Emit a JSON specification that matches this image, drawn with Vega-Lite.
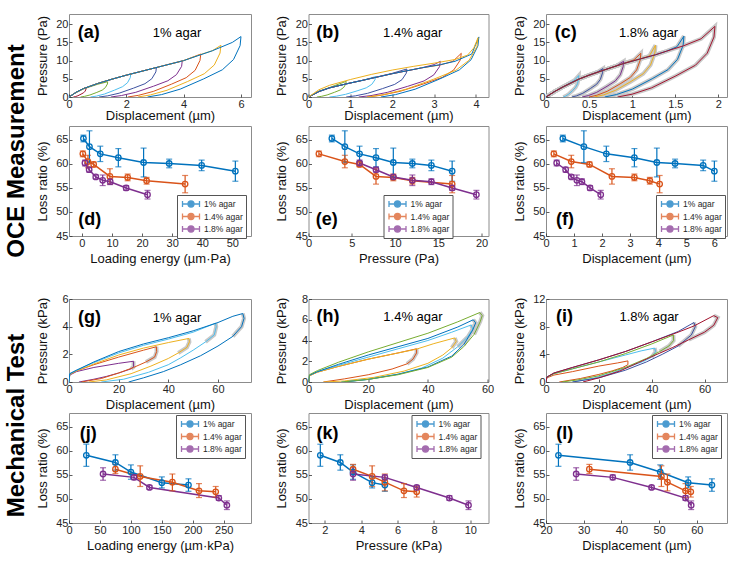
{
"$schema":"https://vega.github.io/schema/vega-lite/v6.json",
"padding":{"left":0,"top":13,"right":0,"bottom":0},
"background":"white",
"config":{
 "font":"Liberation Sans",
 "view":{"stroke":"#8c8c8c","strokeWidth":1},
 "axis":{"grid":false,"domain":false,"ticks":true,"tickColor":"#333333","tickSize":-3,"tickWidth":0.8,"labelFontSize":11,"labelColor":"#262626","labelPadding":4,"titleFontSize":13,"titleFontWeight":"normal","titleColor":"#111111","labelFlush":false,"labelOverlap":false,"tickCount":20},
 "axisX":{"minExtent":11,"maxExtent":11,"titlePadding":1},
 "axisY":{"minExtent":18,"maxExtent":18,"titlePadding":2},
 "legend":{"labelFontSize":8.5,"labelColor":"#262626","symbolSize":100,"symbolStrokeWidth":1.3,"symbolOffset":5,"labelOffset":7,"rowPadding":0.5,"padding":3,"strokeColor":"#555555","fillColor":"#ffffff","symbolFillColor":"transparent","cornerRadius":0}
},
"datasets":{
"loops":[
{"p":"a","k":1,"x":0,"y":0},{"p":"a","k":1,"x":0.25,"y":1.3},{"p":"a","k":1,"x":0.5,"y":2.3},{"p":"a","k":1,"x":0.6,"y":2.6},{"p":"a","k":1,"x":0.596,"y":2.21},{"p":"a","k":1,"x":0.564,"y":1.61},{"p":"a","k":1,"x":0.51,"y":1.17},{"p":"a","k":1,"x":0.42,"y":0.78},{"p":"a","k":1,"x":0.31,"y":0.34},{"p":"a","k":1,"x":0.22,"y":0.1},{"p":"a","k":1,"x":0.15,"y":0},
{"p":"a","k":2,"x":0,"y":0},{"p":"a","k":2,"x":0.25,"y":1.25},{"p":"a","k":2,"x":0.5,"y":2.2},{"p":"a","k":2,"x":1,"y":3.5},{"p":"a","k":2,"x":1.35,"y":4.2},{"p":"a","k":2,"x":1.34,"y":3.57},{"p":"a","k":2,"x":1.27,"y":2.6},{"p":"a","k":2,"x":1.16,"y":1.89},{"p":"a","k":2,"x":0.97,"y":1.26},{"p":"a","k":2,"x":0.73,"y":0.55},{"p":"a","k":2,"x":0.54,"y":0.17},{"p":"a","k":2,"x":0.4,"y":0},
{"p":"a","k":3,"x":0,"y":0},{"p":"a","k":3,"x":0.25,"y":1.3},{"p":"a","k":3,"x":0.5,"y":2.3},{"p":"a","k":3,"x":1,"y":3.7},{"p":"a","k":3,"x":1.5,"y":4.9},{"p":"a","k":3,"x":2,"y":6.0},{"p":"a","k":3,"x":2.15,"y":6.3},{"p":"a","k":3,"x":2.14,"y":5.36},{"p":"a","k":3,"x":2.04,"y":3.91},{"p":"a","k":3,"x":1.87,"y":2.84},{"p":"a","k":3,"x":1.59,"y":1.89},{"p":"a","k":3,"x":1.24,"y":0.82},{"p":"a","k":3,"x":0.96,"y":0.25},{"p":"a","k":3,"x":0.75,"y":0},
{"p":"a","k":4,"x":0,"y":0},{"p":"a","k":4,"x":0.25,"y":1.3},{"p":"a","k":4,"x":0.5,"y":2.3},{"p":"a","k":4,"x":1,"y":3.7},{"p":"a","k":4,"x":1.5,"y":4.9},{"p":"a","k":4,"x":2,"y":6.0},{"p":"a","k":4,"x":3.05,"y":8.1},{"p":"a","k":4,"x":3.03,"y":6.89},{"p":"a","k":4,"x":2.89,"y":5.02},{"p":"a","k":4,"x":2.65,"y":3.65},{"p":"a","k":4,"x":2.25,"y":2.43},{"p":"a","k":4,"x":1.75,"y":1.05},{"p":"a","k":4,"x":1.35,"y":0.32},{"p":"a","k":4,"x":1.05,"y":0},
{"p":"a","k":5,"x":0,"y":0},{"p":"a","k":5,"x":0.25,"y":1.3},{"p":"a","k":5,"x":0.5,"y":2.3},{"p":"a","k":5,"x":1,"y":3.7},{"p":"a","k":5,"x":1.5,"y":4.9},{"p":"a","k":5,"x":2,"y":6.0},{"p":"a","k":5,"x":3,"y":8.0},{"p":"a","k":5,"x":3.95,"y":9.9},{"p":"a","k":5,"x":3.93,"y":8.42},{"p":"a","k":5,"x":3.75,"y":6.14},{"p":"a","k":5,"x":3.45,"y":4.46},{"p":"a","k":5,"x":2.95,"y":2.97},{"p":"a","k":5,"x":2.33,"y":1.29},{"p":"a","k":5,"x":1.83,"y":0.4},{"p":"a","k":5,"x":1.46,"y":0},
{"p":"a","k":6,"x":0,"y":0},{"p":"a","k":6,"x":0.25,"y":1.3},{"p":"a","k":6,"x":0.5,"y":2.3},{"p":"a","k":6,"x":1,"y":3.7},{"p":"a","k":6,"x":1.5,"y":4.9},{"p":"a","k":6,"x":2,"y":6.0},{"p":"a","k":6,"x":3,"y":8.0},{"p":"a","k":6,"x":4,"y":10.0},{"p":"a","k":6,"x":4.6,"y":11.8},{"p":"a","k":6,"x":4.57,"y":10.03},{"p":"a","k":6,"x":4.4,"y":7.32},{"p":"a","k":6,"x":4.09,"y":5.31},{"p":"a","k":6,"x":3.58,"y":3.54},{"p":"a","k":6,"x":2.94,"y":1.53},{"p":"a","k":6,"x":2.43,"y":0.47},{"p":"a","k":6,"x":2.05,"y":0},
{"p":"a","k":7,"x":0,"y":0},{"p":"a","k":7,"x":0.25,"y":1.3},{"p":"a","k":7,"x":0.5,"y":2.3},{"p":"a","k":7,"x":1,"y":3.7},{"p":"a","k":7,"x":1.5,"y":4.9},{"p":"a","k":7,"x":2,"y":6.0},{"p":"a","k":7,"x":3,"y":8.0},{"p":"a","k":7,"x":4,"y":10.0},{"p":"a","k":7,"x":4.6,"y":11.7},{"p":"a","k":7,"x":5,"y":12.7},{"p":"a","k":7,"x":5.3,"y":14.2},{"p":"a","k":7,"x":5.27,"y":12.07},{"p":"a","k":7,"x":5.07,"y":8.8},{"p":"a","k":7,"x":4.72,"y":6.39},{"p":"a","k":7,"x":4.14,"y":4.26},{"p":"a","k":7,"x":3.42,"y":1.85},{"p":"a","k":7,"x":2.84,"y":0.57},{"p":"a","k":7,"x":2.4,"y":0},
{"p":"a","k":8,"x":0,"y":0},{"p":"a","k":8,"x":0.25,"y":1.3},{"p":"a","k":8,"x":0.5,"y":2.3},{"p":"a","k":8,"x":1,"y":3.7},{"p":"a","k":8,"x":1.5,"y":4.9},{"p":"a","k":8,"x":2,"y":6.0},{"p":"a","k":8,"x":3,"y":8.0},{"p":"a","k":8,"x":4,"y":10.0},{"p":"a","k":8,"x":5,"y":12.7},{"p":"a","k":8,"x":5.7,"y":15},{"p":"a","k":8,"x":6,"y":16.6},{"p":"a","k":8,"x":5.97,"y":14.11},{"p":"a","k":8,"x":5.74,"y":10.29},{"p":"a","k":8,"x":5.35,"y":7.47},{"p":"a","k":8,"x":4.7,"y":4.98},{"p":"a","k":8,"x":3.88,"y":2.16},{"p":"a","k":8,"x":3.23,"y":0.66},{"p":"a","k":8,"x":2.74,"y":0},
{"p":"b","k":1,"x":0,"y":0},{"p":"b","k":1,"x":0.25,"y":1.6},{"p":"b","k":1,"x":0.5,"y":2.6},{"p":"b","k":1,"x":0.9,"y":4.3},{"p":"b","k":1,"x":0.893,"y":3.66},{"p":"b","k":1,"x":0.844,"y":2.67},{"p":"b","k":1,"x":0.76,"y":1.94},{"p":"b","k":1,"x":0.62,"y":1.29},{"p":"b","k":1,"x":0.445,"y":0.56},{"p":"b","k":1,"x":0.305,"y":0.17},{"p":"b","k":1,"x":0.2,"y":0},
{"p":"b","k":2,"x":0,"y":0},{"p":"b","k":2,"x":0.25,"y":1.5},{"p":"b","k":2,"x":0.5,"y":2.5},{"p":"b","k":2,"x":0.9,"y":3.6},{"p":"b","k":2,"x":1.3,"y":4.6},{"p":"b","k":2,"x":1.6,"y":5.6},{"p":"b","k":2,"x":1.589,"y":4.76},{"p":"b","k":2,"x":1.512,"y":3.47},{"p":"b","k":2,"x":1.38,"y":2.52},{"p":"b","k":2,"x":1.16,"y":1.68},{"p":"b","k":2,"x":0.885,"y":0.73},{"p":"b","k":2,"x":0.665,"y":0.22},{"p":"b","k":2,"x":0.5,"y":0},
{"p":"b","k":3,"x":0,"y":0},{"p":"b","k":3,"x":0.25,"y":1.5},{"p":"b","k":3,"x":0.5,"y":2.5},{"p":"b","k":3,"x":0.9,"y":3.6},{"p":"b","k":3,"x":1.3,"y":4.6},{"p":"b","k":3,"x":2,"y":6.5},{"p":"b","k":3,"x":2.35,"y":7.7},{"p":"b","k":3,"x":2.336,"y":6.55},{"p":"b","k":3,"x":2.234,"y":4.77},{"p":"b","k":3,"x":2.06,"y":3.47},{"p":"b","k":3,"x":1.77,"y":2.31},{"p":"b","k":3,"x":1.408,"y":1.0},{"p":"b","k":3,"x":1.118,"y":0.31},{"p":"b","k":3,"x":0.9,"y":0},
{"p":"b","k":4,"x":0,"y":0},{"p":"b","k":4,"x":0.25,"y":1.5},{"p":"b","k":4,"x":0.5,"y":2.5},{"p":"b","k":4,"x":0.9,"y":3.6},{"p":"b","k":4,"x":1.3,"y":4.6},{"p":"b","k":4,"x":2,"y":6.4},{"p":"b","k":4,"x":2.7,"y":8.0},{"p":"b","k":4,"x":3.0,"y":8.9},{"p":"b","k":4,"x":3.15,"y":9.8},{"p":"b","k":4,"x":3.13,"y":8.33},{"p":"b","k":4,"x":2.994,"y":6.08},{"p":"b","k":4,"x":2.76,"y":4.41},{"p":"b","k":4,"x":2.37,"y":2.94},{"p":"b","k":4,"x":1.883,"y":1.27},{"p":"b","k":4,"x":1.493,"y":0.39},{"p":"b","k":4,"x":1.2,"y":0},
{"p":"b","k":5,"x":0,"y":0},{"p":"b","k":5,"x":0.25,"y":1.5},{"p":"b","k":5,"x":0.5,"y":2.5},{"p":"b","k":5,"x":0.9,"y":3.6},{"p":"b","k":5,"x":1.3,"y":4.6},{"p":"b","k":5,"x":2,"y":6.4},{"p":"b","k":5,"x":2.7,"y":8.0},{"p":"b","k":5,"x":3.15,"y":8.8},{"p":"b","k":5,"x":3.45,"y":9.8},{"p":"b","k":5,"x":3.65,"y":12},{"p":"b","k":5,"x":3.628,"y":10.2},{"p":"b","k":5,"x":3.47,"y":7.44},{"p":"b","k":5,"x":3.2,"y":5.4},{"p":"b","k":5,"x":2.75,"y":3.6},{"p":"b","k":5,"x":2.188,"y":1.56},{"p":"b","k":5,"x":1.738,"y":0.48},{"p":"b","k":5,"x":1.4,"y":0},
{"p":"b","k":6,"x":0,"y":0},{"p":"b","k":6,"x":0.25,"y":1.5},{"p":"b","k":6,"x":0.5,"y":2.5},{"p":"b","k":6,"x":0.9,"y":3.6},{"p":"b","k":6,"x":1.3,"y":4.6},{"p":"b","k":6,"x":2,"y":6.4},{"p":"b","k":6,"x":2.7,"y":8.0},{"p":"b","k":6,"x":3.15,"y":8.9},{"p":"b","k":6,"x":3.5,"y":9.8},{"p":"b","k":6,"x":3.9,"y":11.8},{"p":"b","k":6,"x":4.07,"y":16.5},{"p":"b","k":6,"x":4.047,"y":14.03},{"p":"b","k":6,"x":3.883,"y":10.23},{"p":"b","k":6,"x":3.602,"y":7.43},{"p":"b","k":6,"x":3.134,"y":4.95},{"p":"b","k":6,"x":2.549,"y":2.15},{"p":"b","k":6,"x":2.081,"y":0.66},{"p":"b","k":6,"x":1.73,"y":0},
{"p":"b","k":7,"x":0,"y":0},{"p":"b","k":7,"x":0.25,"y":2.0},{"p":"b","k":7,"x":0.5,"y":3.2},{"p":"b","k":7,"x":1,"y":4.8},{"p":"b","k":7,"x":1.5,"y":6.2},{"p":"b","k":7,"x":2,"y":7.4},{"p":"b","k":7,"x":2.5,"y":8.4},{"p":"b","k":7,"x":3,"y":9.3},{"p":"b","k":7,"x":3.5,"y":10.3},{"p":"b","k":7,"x":3.8,"y":11.5},{"p":"b","k":7,"x":3.95,"y":13.5},{"p":"b","k":7,"x":4.05,"y":16.3},{"p":"b","k":7,"x":4.024,"y":13.86},{"p":"b","k":7,"x":3.838,"y":10.11},{"p":"b","k":7,"x":3.52,"y":7.34},{"p":"b","k":7,"x":2.99,"y":4.89},{"p":"b","k":7,"x":2.328,"y":2.12},{"p":"b","k":7,"x":1.798,"y":0.65},{"p":"b","k":7,"x":1.4,"y":0},
{"p":"c","k":1,"x":0,"y":0},{"p":"c","k":1,"x":0.1,"y":1.5},{"p":"c","k":1,"x":0.2,"y":2.8},{"p":"c","k":1,"x":0.33,"y":4.6},{"p":"c","k":1,"x":0.38,"y":5.9},{"p":"c","k":1,"x":0.378,"y":5.02},{"p":"c","k":1,"x":0.366,"y":3.66},{"p":"c","k":1,"x":0.344,"y":2.66},{"p":"c","k":1,"x":0.308,"y":1.77},{"p":"c","k":1,"x":0.263,"y":0.77},{"p":"c","k":1,"x":0.227,"y":0.24},{"p":"c","k":1,"x":0.2,"y":0},
{"p":"c","k":2,"x":0,"y":0},{"p":"c","k":2,"x":0.1,"y":1.5},{"p":"c","k":2,"x":0.2,"y":2.8},{"p":"c","k":2,"x":0.38,"y":4.9},{"p":"c","k":2,"x":0.5,"y":6.0},{"p":"c","k":2,"x":0.6,"y":6.9},{"p":"c","k":2,"x":0.66,"y":7.8},{"p":"c","k":2,"x":0.656,"y":6.63},{"p":"c","k":2,"x":0.631,"y":4.84},{"p":"c","k":2,"x":0.588,"y":3.51},{"p":"c","k":2,"x":0.516,"y":2.34},{"p":"c","k":2,"x":0.426,"y":1.01},{"p":"c","k":2,"x":0.354,"y":0.31},{"p":"c","k":2,"x":0.3,"y":0},
{"p":"c","k":3,"x":0,"y":0},{"p":"c","k":3,"x":0.1,"y":1.5},{"p":"c","k":3,"x":0.2,"y":2.8},{"p":"c","k":3,"x":0.38,"y":4.9},{"p":"c","k":3,"x":0.5,"y":6.0},{"p":"c","k":3,"x":0.66,"y":7.3},{"p":"c","k":3,"x":0.82,"y":8.6},{"p":"c","k":3,"x":0.9,"y":9.8},{"p":"c","k":3,"x":0.895,"y":8.33},{"p":"c","k":3,"x":0.862,"y":6.08},{"p":"c","k":3,"x":0.804,"y":4.41},{"p":"c","k":3,"x":0.708,"y":2.94},{"p":"c","k":3,"x":0.588,"y":1.27},{"p":"c","k":3,"x":0.492,"y":0.39},{"p":"c","k":3,"x":0.42,"y":0},
{"p":"c","k":4,"x":0,"y":0},{"p":"c","k":4,"x":0.1,"y":1.5},{"p":"c","k":4,"x":0.2,"y":2.8},{"p":"c","k":4,"x":0.38,"y":4.9},{"p":"c","k":4,"x":0.5,"y":6.0},{"p":"c","k":4,"x":0.66,"y":7.3},{"p":"c","k":4,"x":0.9,"y":9.2},{"p":"c","k":4,"x":1.02,"y":10.2},{"p":"c","k":4,"x":1.1,"y":12},{"p":"c","k":4,"x":1.094,"y":10.2},{"p":"c","k":4,"x":1.052,"y":7.44},{"p":"c","k":4,"x":0.98,"y":5.4},{"p":"c","k":4,"x":0.86,"y":3.6},{"p":"c","k":4,"x":0.71,"y":1.56},{"p":"c","k":4,"x":0.59,"y":0.48},{"p":"c","k":4,"x":0.5,"y":0},
{"p":"c","k":5,"x":0,"y":0},{"p":"c","k":5,"x":0.1,"y":1.5},{"p":"c","k":5,"x":0.2,"y":2.8},{"p":"c","k":5,"x":0.38,"y":4.9},{"p":"c","k":5,"x":0.5,"y":6.0},{"p":"c","k":5,"x":0.66,"y":7.3},{"p":"c","k":5,"x":0.9,"y":9.2},{"p":"c","k":5,"x":1.1,"y":10.5},{"p":"c","k":5,"x":1.2,"y":11.3},{"p":"c","k":5,"x":1.27,"y":14.2},{"p":"c","k":5,"x":1.263,"y":12.07},{"p":"c","k":5,"x":1.213,"y":8.8},{"p":"c","k":5,"x":1.128,"y":6.39},{"p":"c","k":5,"x":0.986,"y":4.26},{"p":"c","k":5,"x":0.808,"y":1.85},{"p":"c","k":5,"x":0.667,"y":0.57},{"p":"c","k":5,"x":0.56,"y":0},
{"p":"c","k":6,"x":0,"y":0},{"p":"c","k":6,"x":0.1,"y":1.5},{"p":"c","k":6,"x":0.2,"y":2.8},{"p":"c","k":6,"x":0.38,"y":4.9},{"p":"c","k":6,"x":0.5,"y":6.0},{"p":"c","k":6,"x":0.66,"y":7.3},{"p":"c","k":6,"x":0.9,"y":9.2},{"p":"c","k":6,"x":1.1,"y":10.5},{"p":"c","k":6,"x":1.27,"y":11.6},{"p":"c","k":6,"x":1.4,"y":12.6},{"p":"c","k":6,"x":1.52,"y":13.8},{"p":"c","k":6,"x":1.6,"y":16.7},{"p":"c","k":6,"x":1.591,"y":14.2},{"p":"c","k":6,"x":1.526,"y":10.35},{"p":"c","k":6,"x":1.416,"y":7.52},{"p":"c","k":6,"x":1.232,"y":5.01},{"p":"c","k":6,"x":1.002,"y":2.17},{"p":"c","k":6,"x":0.818,"y":0.67},{"p":"c","k":6,"x":0.68,"y":0},
{"p":"c","k":7,"x":0,"y":0},{"p":"c","k":7,"x":0.1,"y":1.5},{"p":"c","k":7,"x":0.2,"y":2.8},{"p":"c","k":7,"x":0.38,"y":4.9},{"p":"c","k":7,"x":0.5,"y":6.0},{"p":"c","k":7,"x":0.66,"y":7.3},{"p":"c","k":7,"x":0.9,"y":9.2},{"p":"c","k":7,"x":1.1,"y":10.5},{"p":"c","k":7,"x":1.27,"y":11.6},{"p":"c","k":7,"x":1.4,"y":12.6},{"p":"c","k":7,"x":1.6,"y":14.1},{"p":"c","k":7,"x":1.8,"y":16},{"p":"c","k":7,"x":1.96,"y":19.4},{"p":"c","k":7,"x":1.949,"y":16.49},{"p":"c","k":7,"x":1.87,"y":12.03},{"p":"c","k":7,"x":1.734,"y":8.73},{"p":"c","k":7,"x":1.508,"y":5.82},{"p":"c","k":7,"x":1.226,"y":2.52},{"p":"c","k":7,"x":1.0,"y":0.78},{"p":"c","k":7,"x":0.83,"y":0},
{"p":"g","k":1,"x":0,"y":0},{"p":"g","k":1,"x":0.3,"y":0.5},{"p":"g","k":1,"x":3,"y":0.75},{"p":"g","k":1,"x":10,"y":1.05},{"p":"g","k":1,"x":20,"y":1.35},{"p":"g","k":1,"x":26,"y":1.5,"u":1},{"p":"g","k":1,"x":26,"y":1.1,"u":1},{"p":"g","k":1,"x":25,"y":0.95,"u":1},{"p":"g","k":1,"x":20,"y":0.65},{"p":"g","k":1,"x":15,"y":0.4},{"p":"g","k":1,"x":10,"y":0.2},{"p":"g","k":1,"x":4,"y":0},
{"p":"g","k":2,"x":0,"y":0},{"p":"g","k":2,"x":0.3,"y":0.55},{"p":"g","k":2,"x":3,"y":0.8},{"p":"g","k":2,"x":10,"y":1.25},{"p":"g","k":2,"x":20,"y":1.8},{"p":"g","k":2,"x":30,"y":2.3},{"p":"g","k":2,"x":35.2,"y":2.55,"u":1},{"p":"g","k":2,"x":35.3,"y":2.2,"u":1},{"p":"g","k":2,"x":34.5,"y":1.8,"u":1},{"p":"g","k":2,"x":31,"y":1.45,"u":1},{"p":"g","k":2,"x":26,"y":1.05},{"p":"g","k":2,"x":20,"y":0.65},{"p":"g","k":2,"x":13,"y":0.25},{"p":"g","k":2,"x":5,"y":0},
{"p":"g","k":3,"x":0,"y":0},{"p":"g","k":3,"x":0.3,"y":0.55},{"p":"g","k":3,"x":3,"y":0.8},{"p":"g","k":3,"x":10,"y":1.3},{"p":"g","k":3,"x":20,"y":1.95},{"p":"g","k":3,"x":30,"y":2.45},{"p":"g","k":3,"x":40,"y":2.85},{"p":"g","k":3,"x":48.3,"y":3.15,"u":1},{"p":"g","k":3,"x":48.5,"y":2.9,"u":1},{"p":"g","k":3,"x":47.5,"y":2.5,"u":1},{"p":"g","k":3,"x":44,"y":2.1,"u":1},{"p":"g","k":3,"x":40,"y":1.7},{"p":"g","k":3,"x":33,"y":1.15},{"p":"g","k":3,"x":25,"y":0.6},{"p":"g","k":3,"x":15,"y":0.15},{"p":"g","k":3,"x":8,"y":0},
{"p":"g","k":4,"x":0,"y":0},{"p":"g","k":4,"x":0.3,"y":0.6},{"p":"g","k":4,"x":3,"y":0.85},{"p":"g","k":4,"x":10,"y":1.4},{"p":"g","k":4,"x":20,"y":2.1},{"p":"g","k":4,"x":30,"y":2.65},{"p":"g","k":4,"x":40,"y":3.1},{"p":"g","k":4,"x":50,"y":3.6},{"p":"g","k":4,"x":59,"y":4.25,"u":1},{"p":"g","k":4,"x":59.3,"y":4.0,"u":1},{"p":"g","k":4,"x":58.5,"y":3.4,"u":1},{"p":"g","k":4,"x":55,"y":2.9,"u":1},{"p":"g","k":4,"x":50,"y":2.3},{"p":"g","k":4,"x":45,"y":1.75},{"p":"g","k":4,"x":40,"y":1.25},{"p":"g","k":4,"x":32,"y":0.7},{"p":"g","k":4,"x":22,"y":0.2},{"p":"g","k":4,"x":13,"y":0},
{"p":"g","k":5,"x":0,"y":0},{"p":"g","k":5,"x":0.3,"y":0.6},{"p":"g","k":5,"x":3,"y":0.85},{"p":"g","k":5,"x":10,"y":1.45},{"p":"g","k":5,"x":20,"y":2.2},{"p":"g","k":5,"x":30,"y":2.75},{"p":"g","k":5,"x":40,"y":3.2},{"p":"g","k":5,"x":50,"y":3.7},{"p":"g","k":5,"x":60,"y":4.3},{"p":"g","k":5,"x":66,"y":4.75},{"p":"g","k":5,"x":70,"y":4.95,"u":1},{"p":"g","k":5,"x":70.5,"y":4.6,"u":1},{"p":"g","k":5,"x":69.5,"y":4.0,"u":1},{"p":"g","k":5,"x":66,"y":3.3,"u":1},{"p":"g","k":5,"x":60,"y":2.6},{"p":"g","k":5,"x":53,"y":1.9},{"p":"g","k":5,"x":45,"y":1.25},{"p":"g","k":5,"x":38,"y":0.75},{"p":"g","k":5,"x":30,"y":0.3},{"p":"g","k":5,"x":24,"y":0},
{"p":"h","k":1,"x":0,"y":0},{"p":"h","k":1,"x":0.3,"y":0.6},{"p":"h","k":1,"x":3,"y":0.95},{"p":"h","k":1,"x":10,"y":1.5},{"p":"h","k":1,"x":20,"y":2.2},{"p":"h","k":1,"x":30,"y":2.8},{"p":"h","k":1,"x":36.2,"y":3.2,"u":1},{"p":"h","k":1,"x":36.2,"y":2.8,"u":1},{"p":"h","k":1,"x":35,"y":2.2,"u":1},{"p":"h","k":1,"x":33,"y":1.75,"u":1},{"p":"h","k":1,"x":28,"y":1.25},{"p":"h","k":1,"x":20,"y":0.7},{"p":"h","k":1,"x":12,"y":0.3},{"p":"h","k":1,"x":5,"y":0},
{"p":"h","k":2,"x":0,"y":0},{"p":"h","k":2,"x":0.3,"y":0.6},{"p":"h","k":2,"x":3,"y":0.95},{"p":"h","k":2,"x":10,"y":1.5},{"p":"h","k":2,"x":20,"y":2.2},{"p":"h","k":2,"x":30,"y":2.8},{"p":"h","k":2,"x":36,"y":3.15},{"p":"h","k":2,"x":42,"y":3.7},{"p":"h","k":2,"x":49,"y":4.25,"u":1},{"p":"h","k":2,"x":49.5,"y":3.9,"u":1},{"p":"h","k":2,"x":48,"y":3.3,"u":1},{"p":"h","k":2,"x":45,"y":2.6},{"p":"h","k":2,"x":40,"y":1.8},{"p":"h","k":2,"x":32,"y":1.05},{"p":"h","k":2,"x":22,"y":0.45},{"p":"h","k":2,"x":12,"y":0.1},{"p":"h","k":2,"x":5,"y":0},
{"p":"h","k":3,"x":0,"y":0},{"p":"h","k":3,"x":0.3,"y":0.65},{"p":"h","k":3,"x":3,"y":1.0},{"p":"h","k":3,"x":10,"y":1.6},{"p":"h","k":3,"x":20,"y":2.4},{"p":"h","k":3,"x":30,"y":3.2},{"p":"h","k":3,"x":40,"y":4.0},{"p":"h","k":3,"x":48,"y":4.8},{"p":"h","k":3,"x":54.5,"y":5.5,"u":1},{"p":"h","k":3,"x":55,"y":5.1,"u":1},{"p":"h","k":3,"x":53.5,"y":4.4,"u":1},{"p":"h","k":3,"x":50,"y":3.4,"u":1},{"p":"h","k":3,"x":45,"y":2.3},{"p":"h","k":3,"x":38,"y":1.35},{"p":"h","k":3,"x":30,"y":0.75},{"p":"h","k":3,"x":20,"y":0.25},{"p":"h","k":3,"x":11,"y":0},
{"p":"h","k":4,"x":0,"y":0},{"p":"h","k":4,"x":0.3,"y":0.65},{"p":"h","k":4,"x":3,"y":1.0},{"p":"h","k":4,"x":10,"y":1.7},{"p":"h","k":4,"x":20,"y":2.6},{"p":"h","k":4,"x":30,"y":3.4},{"p":"h","k":4,"x":40,"y":4.2},{"p":"h","k":4,"x":50,"y":5.3},{"p":"h","k":4,"x":55.2,"y":6.0,"u":1},{"p":"h","k":4,"x":56,"y":5.7,"u":1},{"p":"h","k":4,"x":55,"y":5.0,"u":1},{"p":"h","k":4,"x":52,"y":3.6,"u":1},{"p":"h","k":4,"x":48,"y":2.5},{"p":"h","k":4,"x":40,"y":1.45},{"p":"h","k":4,"x":30,"y":0.75},{"p":"h","k":4,"x":20,"y":0.25},{"p":"h","k":4,"x":12,"y":0},
{"p":"h","k":5,"x":0,"y":0},{"p":"h","k":5,"x":0.3,"y":0.7},{"p":"h","k":5,"x":3,"y":1.1},{"p":"h","k":5,"x":10,"y":1.9},{"p":"h","k":5,"x":20,"y":2.9},{"p":"h","k":5,"x":30,"y":3.8},{"p":"h","k":5,"x":40,"y":4.7},{"p":"h","k":5,"x":50,"y":5.8},{"p":"h","k":5,"x":57.4,"y":6.7,"u":1},{"p":"h","k":5,"x":58.2,"y":6.4,"u":1},{"p":"h","k":5,"x":57.5,"y":5.8,"u":1},{"p":"h","k":5,"x":55.5,"y":4.6,"u":1},{"p":"h","k":5,"x":52,"y":3.4},{"p":"h","k":5,"x":48,"y":2.4},{"p":"h","k":5,"x":40,"y":1.4},{"p":"h","k":5,"x":30,"y":0.7},{"p":"h","k":5,"x":20,"y":0.25},{"p":"h","k":5,"x":11,"y":0},
{"p":"i","k":1,"x":0,"y":0},{"p":"i","k":1,"x":0.3,"y":0.6},{"p":"i","k":1,"x":3,"y":1.0},{"p":"i","k":1,"x":10,"y":1.5},{"p":"i","k":1,"x":20,"y":2.3},{"p":"i","k":1,"x":27,"y":2.75},{"p":"i","k":1,"x":31,"y":3.05},{"p":"i","k":1,"x":31,"y":2.5},{"p":"i","k":1,"x":29,"y":2.1},{"p":"i","k":1,"x":25,"y":1.6},{"p":"i","k":1,"x":20,"y":1.1},{"p":"i","k":1,"x":13,"y":0.5},{"p":"i","k":1,"x":5,"y":0},
{"p":"i","k":2,"x":0,"y":0},{"p":"i","k":2,"x":0.3,"y":0.7},{"p":"i","k":2,"x":3,"y":1.2},{"p":"i","k":2,"x":10,"y":1.9},{"p":"i","k":2,"x":20,"y":2.9},{"p":"i","k":2,"x":30,"y":3.9},{"p":"i","k":2,"x":36,"y":4.5},{"p":"i","k":2,"x":41.1,"y":4.9,"u":1},{"p":"i","k":2,"x":41.5,"y":4.4,"u":1},{"p":"i","k":2,"x":40,"y":3.6,"u":1},{"p":"i","k":2,"x":37,"y":3.0},{"p":"i","k":2,"x":32,"y":2.3},{"p":"i","k":2,"x":25,"y":1.3},{"p":"i","k":2,"x":18,"y":0.55},{"p":"i","k":2,"x":10,"y":0},
{"p":"i","k":3,"x":0,"y":0},{"p":"i","k":3,"x":0.3,"y":0.7},{"p":"i","k":3,"x":3,"y":1.2},{"p":"i","k":3,"x":10,"y":1.9},{"p":"i","k":3,"x":20,"y":2.9},{"p":"i","k":3,"x":30,"y":4.1},{"p":"i","k":3,"x":40,"y":5.5},{"p":"i","k":3,"x":48.2,"y":6.8,"u":1},{"p":"i","k":3,"x":48.3,"y":6.0,"u":1},{"p":"i","k":3,"x":46.5,"y":5.2,"u":1},{"p":"i","k":3,"x":43,"y":4.4,"u":1},{"p":"i","k":3,"x":38,"y":3.4},{"p":"i","k":3,"x":30,"y":2.1},{"p":"i","k":3,"x":20,"y":0.9},{"p":"i","k":3,"x":12,"y":0.3},{"p":"i","k":3,"x":6,"y":0},
{"p":"i","k":4,"x":0,"y":0},{"p":"i","k":4,"x":0.3,"y":0.7},{"p":"i","k":4,"x":3,"y":1.3},{"p":"i","k":4,"x":10,"y":2.1},{"p":"i","k":4,"x":20,"y":3.2},{"p":"i","k":4,"x":30,"y":4.4},{"p":"i","k":4,"x":40,"y":5.8},{"p":"i","k":4,"x":50,"y":7.3},{"p":"i","k":4,"x":56,"y":8.6,"u":1},{"p":"i","k":4,"x":56.5,"y":8.0,"u":1},{"p":"i","k":4,"x":55,"y":6.8,"u":1},{"p":"i","k":4,"x":50,"y":5.2,"u":1},{"p":"i","k":4,"x":44,"y":4.0},{"p":"i","k":4,"x":38,"y":2.9},{"p":"i","k":4,"x":30,"y":1.7},{"p":"i","k":4,"x":20,"y":0.6},{"p":"i","k":4,"x":10,"y":0},
{"p":"i","k":5,"x":0,"y":0},{"p":"i","k":5,"x":0.3,"y":0.7},{"p":"i","k":5,"x":3,"y":1.3},{"p":"i","k":5,"x":10,"y":2.1},{"p":"i","k":5,"x":20,"y":3.2},{"p":"i","k":5,"x":30,"y":4.4},{"p":"i","k":5,"x":40,"y":5.8},{"p":"i","k":5,"x":50,"y":7.2},{"p":"i","k":5,"x":56,"y":8.1},{"p":"i","k":5,"x":63.5,"y":9.6,"u":1},{"p":"i","k":5,"x":65,"y":9.3,"u":1},{"p":"i","k":5,"x":63.5,"y":8.2,"u":1},{"p":"i","k":5,"x":60,"y":7.2,"u":1},{"p":"i","k":5,"x":54,"y":6.1,"u":1},{"p":"i","k":5,"x":48,"y":5.0},{"p":"i","k":5,"x":42,"y":4.0},{"p":"i","k":5,"x":35,"y":2.8},{"p":"i","k":5,"x":28,"y":1.6},{"p":"i","k":5,"x":20,"y":0.6},{"p":"i","k":5,"x":14,"y":0}
],
"loss":[
{"p":"d","g":"1% agar","x":0.5,"y":65.3,"lo":64.6,"hi":66.0},{"p":"d","g":"1% agar","x":2.5,"y":63.6,"lo":60.3,"hi":66.9},{"p":"d","g":"1% agar","x":6.1,"y":62.1,"lo":60.5,"hi":63.7},{"p":"d","g":"1% agar","x":12.1,"y":61.3,"lo":59.4,"hi":63.2},{"p":"d","g":"1% agar","x":20.5,"y":60.3,"lo":57.3,"hi":63.3},{"p":"d","g":"1% agar","x":29,"y":60.1,"lo":59.2,"hi":61.0},{"p":"d","g":"1% agar","x":39.8,"y":59.7,"lo":58.6,"hi":60.8},{"p":"d","g":"1% agar","x":51,"y":58.5,"lo":56.4,"hi":60.6},
{"p":"d","g":"1.4% agar","x":0.3,"y":62.1,"lo":61.5,"hi":62.7},{"p":"d","g":"1.4% agar","x":2.0,"y":60.5,"lo":59.2,"hi":61.8},{"p":"d","g":"1.4% agar","x":3.9,"y":59.9,"lo":59.4,"hi":60.4},{"p":"d","g":"1.4% agar","x":9.3,"y":57.4,"lo":55.8,"hi":59.0},{"p":"d","g":"1.4% agar","x":15.2,"y":57.2,"lo":56.5,"hi":57.9},{"p":"d","g":"1.4% agar","x":21.5,"y":56.5,"lo":55.8,"hi":57.2},{"p":"d","g":"1.4% agar","x":34.3,"y":55.8,"lo":54.0,"hi":57.6},
{"p":"d","g":"1.8% agar","x":1.0,"y":60.2,"lo":59.6,"hi":60.8},{"p":"d","g":"1.8% agar","x":2.4,"y":58.8,"lo":58.3,"hi":59.3},{"p":"d","g":"1.8% agar","x":4.6,"y":57.3,"lo":56.9,"hi":57.7},{"p":"d","g":"1.8% agar","x":6.9,"y":56.6,"lo":55.5,"hi":57.7},{"p":"d","g":"1.8% agar","x":9.4,"y":56.3,"lo":55.7,"hi":56.9},{"p":"d","g":"1.8% agar","x":14.7,"y":55.0,"lo":54.5,"hi":55.5},{"p":"d","g":"1.8% agar","x":21.8,"y":53.6,"lo":52.7,"hi":54.5},
{"p":"e","g":"1% agar","x":2.7,"y":65.3,"lo":64.6,"hi":66.0},{"p":"e","g":"1% agar","x":4.2,"y":63.6,"lo":60.3,"hi":66.9},{"p":"e","g":"1% agar","x":5.9,"y":62.1,"lo":60.5,"hi":63.7},{"p":"e","g":"1% agar","x":7.8,"y":61.3,"lo":59.4,"hi":63.2},{"p":"e","g":"1% agar","x":9.8,"y":60.3,"lo":57.3,"hi":63.3},{"p":"e","g":"1% agar","x":12.0,"y":60.1,"lo":59.2,"hi":61.0},{"p":"e","g":"1% agar","x":14.2,"y":59.7,"lo":58.6,"hi":60.8},{"p":"e","g":"1% agar","x":16.6,"y":58.5,"lo":56.4,"hi":60.6},
{"p":"e","g":"1.4% agar","x":1.2,"y":62.1,"lo":61.5,"hi":62.7},{"p":"e","g":"1.4% agar","x":4.2,"y":60.5,"lo":59.2,"hi":61.8},{"p":"e","g":"1.4% agar","x":5.9,"y":59.9,"lo":59.4,"hi":60.4},{"p":"e","g":"1.4% agar","x":7.8,"y":57.4,"lo":55.8,"hi":59.0},{"p":"e","g":"1.4% agar","x":9.8,"y":57.2,"lo":56.5,"hi":57.9},{"p":"e","g":"1.4% agar","x":12.0,"y":56.5,"lo":55.8,"hi":57.2},{"p":"e","g":"1.4% agar","x":16.6,"y":55.8,"lo":54.0,"hi":57.6},
{"p":"e","g":"1.8% agar","x":5.9,"y":60.2,"lo":59.6,"hi":60.8},{"p":"e","g":"1.8% agar","x":7.8,"y":58.8,"lo":58.3,"hi":59.3},{"p":"e","g":"1.8% agar","x":9.8,"y":57.3,"lo":56.9,"hi":57.7},{"p":"e","g":"1.8% agar","x":12.0,"y":56.6,"lo":55.5,"hi":57.7},{"p":"e","g":"1.8% agar","x":14.2,"y":56.3,"lo":55.7,"hi":56.9},{"p":"e","g":"1.8% agar","x":16.6,"y":55.0,"lo":54.5,"hi":55.5},{"p":"e","g":"1.8% agar","x":19.4,"y":53.6,"lo":52.7,"hi":54.5},
{"p":"f","g":"1% agar","x":0.6,"y":65.3,"lo":64.6,"hi":66.0},{"p":"f","g":"1% agar","x":1.35,"y":63.6,"lo":60.3,"hi":66.9},{"p":"f","g":"1% agar","x":2.15,"y":62.1,"lo":60.5,"hi":63.7},{"p":"f","g":"1% agar","x":3.15,"y":61.3,"lo":59.4,"hi":63.2},{"p":"f","g":"1% agar","x":3.95,"y":60.3,"lo":57.3,"hi":63.3},{"p":"f","g":"1% agar","x":4.6,"y":60.1,"lo":59.2,"hi":61.0},{"p":"f","g":"1% agar","x":5.6,"y":59.7,"lo":58.6,"hi":60.8},{"p":"f","g":"1% agar","x":6.0,"y":58.5,"lo":56.4,"hi":60.6},
{"p":"f","g":"1.4% agar","x":0.28,"y":62.1,"lo":61.5,"hi":62.7},{"p":"f","g":"1.4% agar","x":0.9,"y":60.5,"lo":59.2,"hi":61.8},{"p":"f","g":"1.4% agar","x":1.55,"y":59.9,"lo":59.4,"hi":60.4},{"p":"f","g":"1.4% agar","x":2.35,"y":57.4,"lo":55.8,"hi":59.0},{"p":"f","g":"1.4% agar","x":3.15,"y":57.2,"lo":56.5,"hi":57.9},{"p":"f","g":"1.4% agar","x":3.7,"y":56.5,"lo":55.8,"hi":57.2},{"p":"f","g":"1.4% agar","x":4.05,"y":55.8,"lo":54.0,"hi":57.6},
{"p":"f","g":"1.8% agar","x":0.38,"y":60.2,"lo":59.6,"hi":60.8},{"p":"f","g":"1.8% agar","x":0.7,"y":58.8,"lo":58.3,"hi":59.3},{"p":"f","g":"1.8% agar","x":0.9,"y":57.3,"lo":56.9,"hi":57.7},{"p":"f","g":"1.8% agar","x":1.1,"y":56.6,"lo":55.5,"hi":57.7},{"p":"f","g":"1.8% agar","x":1.28,"y":56.3,"lo":55.7,"hi":56.9},{"p":"f","g":"1.8% agar","x":1.57,"y":55.0,"lo":54.5,"hi":55.5},{"p":"f","g":"1.8% agar","x":1.95,"y":53.6,"lo":52.7,"hi":54.5},
{"p":"j","g":"1% agar","x":28,"y":59.1,"lo":56.8,"hi":61.4},{"p":"j","g":"1% agar","x":75,"y":57.6,"lo":56.0,"hi":59.2},{"p":"j","g":"1% agar","x":100,"y":55.6,"lo":54.1,"hi":57.1},{"p":"j","g":"1% agar","x":150,"y":53.4,"lo":52.3,"hi":54.6},{"p":"j","g":"1% agar","x":193,"y":52.9,"lo":51.6,"hi":54.2},
{"p":"j","g":"1.4% agar","x":75,"y":56.2,"lo":55.3,"hi":57.2},{"p":"j","g":"1.4% agar","x":115,"y":54.7,"lo":52.6,"hi":56.9},{"p":"j","g":"1.4% agar","x":167,"y":53.5,"lo":51.7,"hi":55.2},{"p":"j","g":"1.4% agar","x":210,"y":51.7,"lo":50.3,"hi":53.2},{"p":"j","g":"1.4% agar","x":237,"y":51.5,"lo":50.4,"hi":52.6},
{"p":"j","g":"1.8% agar","x":55,"y":55.2,"lo":53.9,"hi":56.5},{"p":"j","g":"1.8% agar","x":105,"y":54.5,"lo":54.0,"hi":55.0},{"p":"j","g":"1.8% agar","x":130,"y":52.4,"lo":52.0,"hi":52.8},{"p":"j","g":"1.8% agar","x":242,"y":50.2,"lo":49.7,"hi":50.7},{"p":"j","g":"1.8% agar","x":255,"y":48.7,"lo":47.8,"hi":49.6},
{"p":"k","g":"1% agar","x":1.75,"y":59.1,"lo":56.8,"hi":61.4},{"p":"k","g":"1% agar","x":2.85,"y":57.6,"lo":56.0,"hi":59.2},{"p":"k","g":"1% agar","x":3.55,"y":55.6,"lo":54.1,"hi":57.1},{"p":"k","g":"1% agar","x":4.6,"y":53.4,"lo":52.3,"hi":54.6},{"p":"k","g":"1% agar","x":5.3,"y":52.9,"lo":51.6,"hi":54.2},
{"p":"k","g":"1.4% agar","x":3.55,"y":56.2,"lo":55.3,"hi":57.2},{"p":"k","g":"1.4% agar","x":4.6,"y":54.7,"lo":52.6,"hi":56.9},{"p":"k","g":"1.4% agar","x":5.3,"y":53.5,"lo":51.7,"hi":55.2},{"p":"k","g":"1.4% agar","x":6.35,"y":51.7,"lo":50.3,"hi":53.2},{"p":"k","g":"1.4% agar","x":7.05,"y":51.5,"lo":50.4,"hi":52.6},
{"p":"k","g":"1.8% agar","x":3.55,"y":55.2,"lo":53.9,"hi":56.5},{"p":"k","g":"1.8% agar","x":5.3,"y":54.5,"lo":54.0,"hi":55.0},{"p":"k","g":"1.8% agar","x":7.05,"y":52.4,"lo":52.0,"hi":52.8},{"p":"k","g":"1.8% agar","x":8.85,"y":50.2,"lo":49.7,"hi":50.7},{"p":"k","g":"1.8% agar","x":9.9,"y":48.7,"lo":47.8,"hi":49.6},
{"p":"l","g":"1% agar","x":23.3,"y":59.1,"lo":56.8,"hi":61.4},{"p":"l","g":"1% agar","x":42.3,"y":57.6,"lo":56.0,"hi":59.2},{"p":"l","g":"1% agar","x":50.3,"y":55.6,"lo":54.1,"hi":57.1},{"p":"l","g":"1% agar","x":57.7,"y":53.4,"lo":52.3,"hi":54.6},{"p":"l","g":"1% agar","x":64,"y":52.9,"lo":51.6,"hi":54.2},
{"p":"l","g":"1.4% agar","x":31.5,"y":56.2,"lo":55.3,"hi":57.2},{"p":"l","g":"1.4% agar","x":50.6,"y":54.7,"lo":52.6,"hi":56.9},{"p":"l","g":"1.4% agar","x":52.2,"y":53.5,"lo":51.7,"hi":55.2},{"p":"l","g":"1.4% agar","x":57,"y":51.7,"lo":50.3,"hi":53.2},{"p":"l","g":"1.4% agar","x":58.4,"y":51.5,"lo":50.4,"hi":52.6},
{"p":"l","g":"1.8% agar","x":28,"y":55.2,"lo":53.9,"hi":56.5},{"p":"l","g":"1.8% agar","x":37.7,"y":54.5,"lo":54.0,"hi":55.0},{"p":"l","g":"1.8% agar","x":48,"y":52.4,"lo":52.0,"hi":52.8},{"p":"l","g":"1.8% agar","x":57,"y":50.2,"lo":49.7,"hi":50.7},{"p":"l","g":"1.8% agar","x":58.5,"y":48.7,"lo":47.8,"hi":49.6}
]
},
"resolve":{"scale":{"color":"independent"},"legend":{"color":"independent"}},
"spacing":4,
"vconcat":[
{"resolve":{"scale":{"color":"independent"},"legend":{"color":"independent"}},"spacing":1,
 "hconcat":[
  {"width":34,"height":274,"view":{"stroke":null},"data":{"values":[{}]},"mark":{"type":"text","angle":270,"fontSize":24,"fontWeight":"bold","color":"#000000"},"encoding":{"text":{"value":"OCE Measurement"}}},
  {"resolve":{"scale":{"color":"independent"},"legend":{"color":"independent"}},"spacing":2,
   "vconcat":[
    {"resolve":{"scale":{"color":"independent"},"legend":{"color":"independent"}},"spacing":57.5,"bounds":"flush",
     "hconcat":[
      {"width":182,"height":83,"layer":[
        {"data":{"name":"loops"},"transform":[{"filter":"datum.p=='a'"}],"mark":{"type":"line","strokeWidth":1,"clip":true},
         "encoding":{"x":{"field":"x","type":"quantitative","scale":{"domain":[0,6.35],"nice":false,"zero":false},"axis":{"values":[0,2,4,6],"tickCount":20,"labelExpr":"''+datum.value","title":"Displacement (µm)"}},
          "y":{"field":"y","type":"quantitative","scale":{"domain":[0,22.8],"nice":false,"zero":false},"axis":{"values":[0,5,10,15,20],"tickCount":20,"labelExpr":"''+datum.value","title":"Pressure (Pa)"}},
          "color":{"field":"k","type":"nominal","scale":{"domain":[1,2,3,4,5,6,7,8],"range":["#A2142F","#77AC30","#4DBEEE","#3D52A1","#7E2F8E","#D95319","#EDB120","#0072BD"]},"legend":null},
          "order":{"value":null}}},
        {"data":{"values":[{}]},"mark":{"type":"text","fontSize":18,"fontWeight":"bold"},"encoding":{"x":{"datum":0.69},"y":{"datum":17.7},"text":{"value":"(a)"}}},
        {"data":{"values":[{}]},"mark":{"type":"text","fontSize":13},"encoding":{"x":{"datum":3.77},"y":{"datum":17.7},"text":{"value":"1% agar"}}}
      ]},
      {"width":180,"height":83,"layer":[
        {"data":{"name":"loops"},"transform":[{"filter":"datum.p=='b'"}],"mark":{"type":"line","strokeWidth":1,"clip":true},
         "encoding":{"x":{"field":"x","type":"quantitative","scale":{"domain":[0,4.3],"nice":false,"zero":false},"axis":{"values":[0,1,2,3,4],"tickCount":20,"labelExpr":"''+datum.value","title":"Displacement (µm)"}},
          "y":{"field":"y","type":"quantitative","scale":{"domain":[0,22.8],"nice":false,"zero":false},"axis":{"values":[0,5,10,15,20],"tickCount":20,"labelExpr":"''+datum.value","title":"Pressure (Pa)"}},
          "color":{"field":"k","type":"nominal","scale":{"domain":[1,2,3,4,5,6,7],"range":["#77AC30","#4DBEEE","#3D52A1","#7E2F8E","#D95319","#0072BD","#EDB120"]},"legend":null},
          "order":{"value":null}}},
        {"data":{"values":[{}]},"mark":{"type":"text","fontSize":18,"fontWeight":"bold"},"encoding":{"x":{"datum":0.46},"y":{"datum":17.7},"text":{"value":"(b)"}}},
        {"data":{"values":[{}]},"mark":{"type":"text","fontSize":13},"encoding":{"x":{"datum":2.49},"y":{"datum":17.7},"text":{"value":"1.4% agar"}}}
      ]},
      {"width":181,"height":83,"layer":[
        {"data":{"name":"loops"},"transform":[{"filter":"datum.p=='c'"}],"mark":{"type":"line","strokeWidth":4,"color":"#c8c8c8","clip":true},
         "encoding":{"x":{"field":"x","type":"quantitative","title":"Displacement (µm)","scale":{"domain":[0,2.1],"nice":false,"zero":false}},"y":{"field":"y","type":"quantitative","title":"Pressure (Pa)","scale":{"domain":[0,22.8],"nice":false,"zero":false}},"detail":{"field":"k","type":"nominal"},"order":{"value":null}}},
        {"data":{"name":"loops"},"transform":[{"filter":"datum.p=='c'"}],"mark":{"type":"line","strokeWidth":1,"clip":true},
         "encoding":{"x":{"field":"x","type":"quantitative","scale":{"domain":[0,2.1],"nice":false,"zero":false},"axis":{"values":[0,0.5,1,1.5,2],"tickCount":20,"labelExpr":"''+datum.value","title":"Displacement (µm)"}},
          "y":{"field":"y","type":"quantitative","scale":{"domain":[0,22.8],"nice":false,"zero":false},"axis":{"values":[0,5,10,15,20],"tickCount":20,"labelExpr":"''+datum.value","title":"Pressure (Pa)"}},
          "color":{"field":"k","type":"nominal","scale":{"domain":[1,2,3,4,5,6,7],"range":["#4DBEEE","#3D52A1","#7E2F8E","#D95319","#EDB120","#0072BD","#A2142F"]},"legend":null},
          "order":{"value":null}}},
        {"data":{"values":[{}]},"mark":{"type":"text","fontSize":18,"fontWeight":"bold"},"encoding":{"x":{"datum":0.23},"y":{"datum":17.5},"text":{"value":"(c)"}}},
        {"data":{"values":[{}]},"mark":{"type":"text","fontSize":13},"encoding":{"x":{"datum":1.19},"y":{"datum":17.5},"text":{"value":"1.8% agar"}}}
      ]}
     ]},
    {"resolve":{"scale":{"color":"independent"},"legend":{"color":"independent"}},"spacing":57.5,"bounds":"flush",
     "hconcat":[
      {"width":182,"height":110,"layer":[
        {"data":{"name":"loss"},"transform":[{"filter":"datum.p=='d'"}],
         "encoding":{"x":{"field":"x","type":"quantitative","scale":{"domain":[-4.3,56.2],"nice":false,"zero":false},"axis":{"values":[0,10,20,30,40,50],"tickCount":20,"labelExpr":"''+datum.value","titlePadding":5,"title":"Loading energy (µm·Pa)"}},
          "y":{"field":"y","type":"quantitative","scale":{"domain":[45,67.9],"nice":false,"zero":false},"axis":{"values":[45,50,55,60,65],"tickCount":20,"labelExpr":"''+datum.value","title":"Loss ratio (%)"}},
          "color":{"field":"g","type":"nominal","scale":{"domain":["1% agar","1.4% agar","1.8% agar"],"range":["#0072BD","#D95319","#7E2F8E"]},"legend":{"orient":"none","legendX":108,"legendY":69,"title":null,"symbolType":"M-1.7,0H-0.6M0.6,0H1.7M-1.7,-0.6V0.6M1.7,-0.6V0.6M-0.6,0A0.6,0.6,0,1,1,0.6,0A0.6,0.6,0,1,1,-0.6,0"}}},
         "layer":[
          {"mark":{"type":"line","strokeWidth":1.5}},
          {"mark":{"type":"errorbar","ticks":true,"size":6,"thickness":1.2},"encoding":{"y":{"field":"lo","type":"quantitative","title":"Loss ratio (%)","scale":{"domain":[45,67.9],"nice":false,"zero":false}},"y2":{"field":"hi"}}},
          {"mark":{"type":"point","shape":"circle","filled":false,"size":30,"strokeWidth":1.3,"opacity":1}}
         ]},
        {"data":{"values":[{}]},"mark":{"type":"text","fontSize":18,"fontWeight":"bold"},"encoding":{"x":{"datum":2.6},"y":{"datum":48.4},"text":{"value":"(d)"}}}
      ]},
      {"width":180,"height":110,"layer":[
        {"data":{"name":"loss"},"transform":[{"filter":"datum.p=='e'"}],
         "encoding":{"x":{"field":"x","type":"quantitative","scale":{"domain":[0,20.8],"nice":false,"zero":false},"axis":{"values":[0,5,10,15,20],"tickCount":20,"labelExpr":"''+datum.value","titlePadding":5,"title":"Pressure (Pa)"}},
          "y":{"field":"y","type":"quantitative","scale":{"domain":[45,67.9],"nice":false,"zero":false},"axis":{"values":[45,50,55,60,65],"tickCount":20,"labelExpr":"''+datum.value","title":"Loss ratio (%)"}},
          "color":{"field":"g","type":"nominal","scale":{"domain":["1% agar","1.4% agar","1.8% agar"],"range":["#0072BD","#D95319","#7E2F8E"]},"legend":{"orient":"none","legendX":75,"legendY":69,"title":null,"symbolType":"M-1.7,0H-0.6M0.6,0H1.7M-1.7,-0.6V0.6M1.7,-0.6V0.6M-0.6,0A0.6,0.6,0,1,1,0.6,0A0.6,0.6,0,1,1,-0.6,0"}}},
         "layer":[
          {"mark":{"type":"line","strokeWidth":1.5}},
          {"mark":{"type":"errorbar","ticks":true,"size":6,"thickness":1.2},"encoding":{"y":{"field":"lo","type":"quantitative","title":"Loss ratio (%)","scale":{"domain":[45,67.9],"nice":false,"zero":false}},"y2":{"field":"hi"}}},
          {"mark":{"type":"point","shape":"circle","filled":false,"size":30,"strokeWidth":1.3,"opacity":1}}
         ]},
        {"data":{"values":[{}]},"mark":{"type":"text","fontSize":18,"fontWeight":"bold"},"encoding":{"x":{"datum":2.1},"y":{"datum":48.4},"text":{"value":"(e)"}}}
      ]},
      {"width":181,"height":110,"layer":[
        {"data":{"name":"loss"},"transform":[{"filter":"datum.p=='f'"}],
         "encoding":{"x":{"field":"x","type":"quantitative","scale":{"domain":[0,6.45],"nice":false,"zero":false},"axis":{"values":[0,1,2,3,4,5,6],"tickCount":20,"labelExpr":"''+datum.value","titlePadding":5,"title":"Displacement (µm)"}},
          "y":{"field":"y","type":"quantitative","scale":{"domain":[45,67.9],"nice":false,"zero":false},"axis":{"values":[45,50,55,60,65],"tickCount":20,"labelExpr":"''+datum.value","title":"Loss ratio (%)"}},
          "color":{"field":"g","type":"nominal","scale":{"domain":["1% agar","1.4% agar","1.8% agar"],"range":["#0072BD","#D95319","#7E2F8E"]},"legend":{"orient":"none","legendX":110,"legendY":69,"title":null,"symbolType":"M-1.7,0H-0.6M0.6,0H1.7M-1.7,-0.6V0.6M1.7,-0.6V0.6M-0.6,0A0.6,0.6,0,1,1,0.6,0A0.6,0.6,0,1,1,-0.6,0"}}},
         "layer":[
          {"mark":{"type":"line","strokeWidth":1.5}},
          {"mark":{"type":"errorbar","ticks":true,"size":6,"thickness":1.2},"encoding":{"y":{"field":"lo","type":"quantitative","title":"Loss ratio (%)","scale":{"domain":[45,67.9],"nice":false,"zero":false}},"y2":{"field":"hi"}}},
          {"mark":{"type":"point","shape":"circle","filled":false,"size":30,"strokeWidth":1.3,"opacity":1}}
         ]},
        {"data":{"values":[{}]},"mark":{"type":"text","fontSize":18,"fontWeight":"bold"},"encoding":{"x":{"datum":0.68},"y":{"datum":48.4},"text":{"value":"(f)"}}}
      ]}
     ]}
   ]}
 ]},
{"resolve":{"scale":{"color":"independent"},"legend":{"color":"independent"}},"spacing":1,
 "hconcat":[
  {"width":34,"height":253,"view":{"stroke":null},"data":{"values":[{}]},"mark":{"type":"text","angle":270,"fontSize":24,"fontWeight":"bold","color":"#000000"},"encoding":{"text":{"value":"Mechanical Test"}}},
  {"resolve":{"scale":{"color":"independent"},"legend":{"color":"independent"}},"spacing":0,
   "vconcat":[
    {"resolve":{"scale":{"color":"independent"},"legend":{"color":"independent"}},"spacing":57.5,"bounds":"flush",
     "hconcat":[
      {"width":182,"height":83,"layer":[
        {"data":{"name":"loops"},"transform":[{"filter":"datum.p=='g' && datum.u==1"}],"mark":{"type":"line","strokeWidth":4,"color":"#c8c8c8","clip":true},
         "encoding":{"x":{"field":"x","type":"quantitative","title":"Displacement (µm)","scale":{"domain":[0,73.3],"nice":false,"zero":false}},"y":{"field":"y","type":"quantitative","title":"Pressure (kPa)","scale":{"domain":[0,6],"nice":false,"zero":false}},"detail":{"field":"k","type":"nominal"},"order":{"value":null}}},
        {"data":{"name":"loops"},"transform":[{"filter":"datum.p=='g'"}],"mark":{"type":"line","strokeWidth":1,"clip":true},
         "encoding":{"x":{"field":"x","type":"quantitative","scale":{"domain":[0,73.3],"nice":false,"zero":false},"axis":{"values":[0,20,40,60],"tickCount":20,"labelExpr":"''+datum.value","titlePadding":5,"title":"Displacement (µm)"}},
          "y":{"field":"y","type":"quantitative","scale":{"domain":[0,6],"nice":false,"zero":false},"axis":{"values":[0,2,4,6],"tickCount":20,"labelExpr":"''+datum.value","title":"Pressure (kPa)"}},
          "color":{"field":"k","type":"nominal","scale":{"domain":[1,2,3,4,5],"range":["#7E2F8E","#D95319","#EDB120","#4DBEEE","#0072BD"]},"legend":null},
          "order":{"value":null}}},
        {"data":{"values":[{}]},"mark":{"type":"text","fontSize":18,"fontWeight":"bold"},"encoding":{"x":{"datum":8.3},"y":{"datum":4.62},"text":{"value":"(g)"}}},
        {"data":{"values":[{}]},"mark":{"type":"text","fontSize":13},"encoding":{"x":{"datum":43.5},"y":{"datum":4.62},"text":{"value":"1% agar"}}}
      ]},
      {"width":180,"height":83,"layer":[
        {"data":{"name":"loops"},"transform":[{"filter":"datum.p=='h' && datum.u==1"}],"mark":{"type":"line","strokeWidth":4,"color":"#c8c8c8","clip":true},
         "encoding":{"x":{"field":"x","type":"quantitative","title":"Displacement (µm)","scale":{"domain":[0,60.3],"nice":false,"zero":false}},"y":{"field":"y","type":"quantitative","title":"Pressure (kPa)","scale":{"domain":[0,8],"nice":false,"zero":false}},"detail":{"field":"k","type":"nominal"},"order":{"value":null}}},
        {"data":{"name":"loops"},"transform":[{"filter":"datum.p=='h'"}],"mark":{"type":"line","strokeWidth":1,"clip":true},
         "encoding":{"x":{"field":"x","type":"quantitative","scale":{"domain":[0,60.3],"nice":false,"zero":false},"axis":{"values":[0,20,40,60],"tickCount":20,"labelExpr":"''+datum.value","titlePadding":5,"title":"Displacement (µm)"}},
          "y":{"field":"y","type":"quantitative","scale":{"domain":[0,8],"nice":false,"zero":false},"axis":{"values":[0,2,4,6,8],"tickCount":20,"labelExpr":"''+datum.value","title":"Pressure (kPa)"}},
          "color":{"field":"k","type":"nominal","scale":{"domain":[1,2,3,4,5],"range":["#D95319","#EDB120","#4DBEEE","#0072BD","#77AC30"]},"legend":null},
          "order":{"value":null}}},
        {"data":{"values":[{}]},"mark":{"type":"text","fontSize":18,"fontWeight":"bold"},"encoding":{"x":{"datum":6.5},"y":{"datum":6.25},"text":{"value":"(h)"}}},
        {"data":{"values":[{}]},"mark":{"type":"text","fontSize":13},"encoding":{"x":{"datum":35},"y":{"datum":6.25},"text":{"value":"1.4% agar"}}}
      ]},
      {"width":181,"height":83,"layer":[
        {"data":{"name":"loops"},"transform":[{"filter":"datum.p=='i' && datum.u==1"}],"mark":{"type":"line","strokeWidth":4,"color":"#c8c8c8","clip":true},
         "encoding":{"x":{"field":"x","type":"quantitative","title":"Displacement (µm)","scale":{"domain":[0,68.5],"nice":false,"zero":false}},"y":{"field":"y","type":"quantitative","title":"Pressure (kPa)","scale":{"domain":[0,12],"nice":false,"zero":false}},"detail":{"field":"k","type":"nominal"},"order":{"value":null}}},
        {"data":{"name":"loops"},"transform":[{"filter":"datum.p=='i'"}],"mark":{"type":"line","strokeWidth":1,"clip":true},
         "encoding":{"x":{"field":"x","type":"quantitative","scale":{"domain":[0,68.5],"nice":false,"zero":false},"axis":{"values":[0,20,40,60],"tickCount":20,"labelExpr":"''+datum.value","titlePadding":5,"title":"Displacement (µm)"}},
          "y":{"field":"y","type":"quantitative","scale":{"domain":[0,12],"nice":false,"zero":false},"axis":{"values":[0,4,8,12],"tickCount":20,"labelExpr":"''+datum.value","title":"Pressure (kPa)"}},
          "color":{"field":"k","type":"nominal","scale":{"domain":[1,2,3,4,5],"range":["#D95319","#4DBEEE","#77AC30","#3D52A1","#A2142F"]},"legend":null},
          "order":{"value":null}}},
        {"data":{"values":[{}]},"mark":{"type":"text","fontSize":18,"fontWeight":"bold"},"encoding":{"x":{"datum":7},"y":{"datum":9.37},"text":{"value":"(i)"}}},
        {"data":{"values":[{}]},"mark":{"type":"text","fontSize":13},"encoding":{"x":{"datum":39},"y":{"datum":9.37},"text":{"value":"1.8% agar"}}}
      ]}
     ]},
    {"resolve":{"scale":{"color":"independent"},"legend":{"color":"independent"}},"spacing":57.5,"bounds":"flush",
     "hconcat":[
      {"width":182,"height":110,"layer":[
        {"data":{"name":"loss"},"transform":[{"filter":"datum.p=='j'"}],
         "encoding":{"x":{"field":"x","type":"quantitative","scale":{"domain":[0,294],"nice":false,"zero":false},"axis":{"values":[0,50,100,150,200,250],"tickCount":20,"labelExpr":"''+datum.value","titlePadding":5,"title":"Loading energy (µm·kPa)"}},
          "y":{"field":"y","type":"quantitative","scale":{"domain":[45,67.9],"nice":false,"zero":false},"axis":{"values":[45,50,55,60,65],"tickCount":20,"labelExpr":"''+datum.value","title":"Loss ratio (%)"}},
          "color":{"field":"g","type":"nominal","scale":{"domain":["1% agar","1.4% agar","1.8% agar"],"range":["#0072BD","#D95319","#7E2F8E"]},"legend":{"orient":"none","legendX":107,"legendY":2,"title":null,"symbolType":"M-1.7,0H-0.6M0.6,0H1.7M-1.7,-0.6V0.6M1.7,-0.6V0.6M-0.6,0A0.6,0.6,0,1,1,0.6,0A0.6,0.6,0,1,1,-0.6,0"}}},
         "layer":[
          {"mark":{"type":"line","strokeWidth":1.5}},
          {"mark":{"type":"errorbar","ticks":true,"size":6,"thickness":1.2},"encoding":{"y":{"field":"lo","type":"quantitative","title":"Loss ratio (%)","scale":{"domain":[45,67.9],"nice":false,"zero":false}},"y2":{"field":"hi"}}},
          {"mark":{"type":"point","shape":"circle","filled":false,"size":30,"strokeWidth":1.3,"opacity":1}}
         ]},
        {"data":{"values":[{}]},"mark":{"type":"text","fontSize":18,"fontWeight":"bold"},"encoding":{"x":{"datum":31},"y":{"datum":63.6},"text":{"value":"(j)"}}}
      ]},
      {"width":180,"height":110,"layer":[
        {"data":{"name":"loss"},"transform":[{"filter":"datum.p=='k'"}],
         "encoding":{"x":{"field":"x","type":"quantitative","scale":{"domain":[1.1,11],"nice":false,"zero":false},"axis":{"values":[2,4,6,8,10],"tickCount":20,"labelExpr":"''+datum.value","titlePadding":5,"title":"Pressure (kPa)"}},
          "y":{"field":"y","type":"quantitative","scale":{"domain":[45,67.9],"nice":false,"zero":false},"axis":{"values":[45,50,55,60,65],"tickCount":20,"labelExpr":"''+datum.value","title":"Loss ratio (%)"}},
          "color":{"field":"g","type":"nominal","scale":{"domain":["1% agar","1.4% agar","1.8% agar"],"range":["#0072BD","#D95319","#7E2F8E"]},"legend":{"orient":"none","legendX":103,"legendY":2,"title":null,"symbolType":"M-1.7,0H-0.6M0.6,0H1.7M-1.7,-0.6V0.6M1.7,-0.6V0.6M-0.6,0A0.6,0.6,0,1,1,0.6,0A0.6,0.6,0,1,1,-0.6,0"}}},
         "layer":[
          {"mark":{"type":"line","strokeWidth":1.5}},
          {"mark":{"type":"errorbar","ticks":true,"size":6,"thickness":1.2},"encoding":{"y":{"field":"lo","type":"quantitative","title":"Loss ratio (%)","scale":{"domain":[45,67.9],"nice":false,"zero":false}},"y2":{"field":"hi"}}},
          {"mark":{"type":"point","shape":"circle","filled":false,"size":30,"strokeWidth":1.3,"opacity":1}}
         ]},
        {"data":{"values":[{}]},"mark":{"type":"text","fontSize":18,"fontWeight":"bold"},"encoding":{"x":{"datum":2.15},"y":{"datum":63.6},"text":{"value":"(k)"}}}
      ]},
      {"width":181,"height":110,"layer":[
        {"data":{"name":"loss"},"transform":[{"filter":"datum.p=='l'"}],
         "encoding":{"x":{"field":"x","type":"quantitative","scale":{"domain":[20,68],"nice":false,"zero":false},"axis":{"values":[20,30,40,50,60],"tickCount":20,"labelExpr":"''+datum.value","titlePadding":5,"title":"Displacement (µm)"}},
          "y":{"field":"y","type":"quantitative","scale":{"domain":[45,67.9],"nice":false,"zero":false},"axis":{"values":[45,50,55,60,65],"tickCount":20,"labelExpr":"''+datum.value","title":"Loss ratio (%)"}},
          "color":{"field":"g","type":"nominal","scale":{"domain":["1% agar","1.4% agar","1.8% agar"],"range":["#0072BD","#D95319","#7E2F8E"]},"legend":{"orient":"none","legendX":106,"legendY":2,"title":null,"symbolType":"M-1.7,0H-0.6M0.6,0H1.7M-1.7,-0.6V0.6M1.7,-0.6V0.6M-0.6,0A0.6,0.6,0,1,1,0.6,0A0.6,0.6,0,1,1,-0.6,0"}}},
         "layer":[
          {"mark":{"type":"line","strokeWidth":1.5}},
          {"mark":{"type":"errorbar","ticks":true,"size":6,"thickness":1.2},"encoding":{"y":{"field":"lo","type":"quantitative","title":"Loss ratio (%)","scale":{"domain":[45,67.9],"nice":false,"zero":false}},"y2":{"field":"hi"}}},
          {"mark":{"type":"point","shape":"circle","filled":false,"size":30,"strokeWidth":1.3,"opacity":1}}
         ]},
        {"data":{"values":[{}]},"mark":{"type":"text","fontSize":18,"fontWeight":"bold"},"encoding":{"x":{"datum":25},"y":{"datum":63.6},"text":{"value":"(l)"}}}
      ]}
     ]}
   ]}
 ]}
]
}
